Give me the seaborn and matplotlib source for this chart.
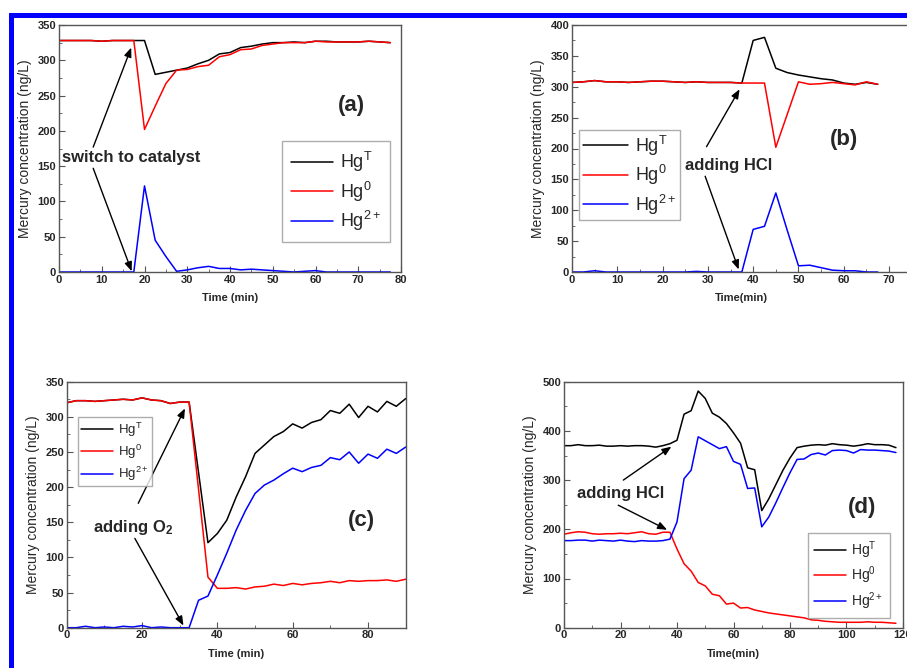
import numpy as np
import pandas as pd
import matplotlib
matplotlib.use('Agg')
import matplotlib.pyplot as plt
import seaborn as sns
from matplotlib.ticker import MultipleLocator
from matplotlib.patches import Rectangle

# ---------------- data ----------------
series_names = [r'Hg$^{\mathrm{T}}$', r'Hg$^{\mathrm{0}}$', r'Hg$^{\mathrm{2+}}$']
series_colors = ['#000000', '#ff0000', '#0000ff']

# panel (a)
t_a = [0, 2.5, 5, 7.5, 10, 12.5, 15, 17.5, 20, 22.5, 25, 27.5, 30, 32.5, 35, 37.5,
       40, 42.5, 45, 47.5, 50, 52.5, 55, 57.5, 60, 62.5, 65, 67.5, 70, 72.5, 75, 77.5]
hgT_a = [328, 328, 328, 328, 327, 328, 328, 328, 328, 280, 283, 286, 289, 295, 300, 309,
         311, 318, 320, 323, 325, 325, 326, 325, 327, 327, 326, 326, 326, 327, 326, 325]
hg0_a = [328, 328, 328, 328, 327, 328, 328, 328, 202, 235, 267, 286, 287, 291, 293, 305,
         308, 315, 316, 321, 323, 325, 325, 325, 327, 326, 326, 326, 326, 327, 326, 325]
hg2_a = [0, 0, 0, 0, 0, 0, 0, 0, 122, 45, 22, 1, 3, 6, 8, 5,
         5, 3, 4, 3, 2, 1, 0, 1, 2, 0, 0, 0, 0, 0, 0, 0]

# panel (b)
t_b = [0, 2.5, 5, 7.5, 10, 12.5, 15, 17.5, 20, 22.5, 25, 27.5, 30, 32.5, 35, 37.5,
       40, 42.5, 45, 47.5, 50, 52.5, 55, 57.5, 60, 62.5, 65, 67.5]
hgT_b = [307, 308, 310, 308, 308, 307, 308, 309, 309, 308, 307, 308, 307, 307, 307, 306,
         375, 380, 330, 323, 319, 316, 313, 311, 306, 304, 307, 304]
hg0_b = [307, 308, 310, 308, 308, 307, 308, 309, 309, 308, 307, 308, 307, 307, 307, 306,
         306, 306, 202, 255, 308, 304, 305, 307, 305, 303, 308, 304]
hg2_b = [0, 0, 2, 0, 0, 0, 0, 0, 0, 0, 0, 1, 0, 0, 0, 0,
         69, 74, 128, 68, 10, 11, 7, 3, 2, 2, 0, 0]

# panel (c)
t_c = [0, 2.5, 5, 7.5, 10, 12.5, 15, 17.5, 20, 22.5, 25, 27.5, 30, 32.5, 35, 37.5,
       40, 42.5, 45, 47.5, 50, 52.5, 55, 57.5, 60, 62.5, 65, 67.5, 70, 72.5, 75, 77.5,
       80, 82.5, 85, 87.5, 90]
hgT_c = [320, 323, 323, 322, 323, 324, 325, 324, 327, 324, 323, 319, 321, 321, 221, 121,
         134, 153, 186, 215, 248, 260, 272, 279, 290, 284, 292, 296, 309, 305, 318, 299,
         315, 307, 322, 315, 326]
hg0_c = [320, 323, 323, 322, 323, 324, 325, 324, 327, 324, 323, 319, 321, 321, 197, 72,
         56, 56, 57, 55, 58, 59, 62, 60, 63, 61, 63, 64, 66, 64, 67, 66,
         67, 67, 68, 66, 69]
hg2_c = [0, 0, 2, 0, 1, 0, 2, 1, 3, 0, 1, 0, 0, 0, 39, 45,
         75, 106, 139, 167, 191, 203, 210, 219, 227, 222, 228, 231, 242, 239, 250, 234,
         247, 241, 254, 248, 257]

# panel (d)
t_d = [0, 2.5, 5, 7.5, 10, 12.5, 15, 17.5, 20, 22.5, 25, 27.5, 30, 32.5, 35, 37.5,
       40, 42.5, 45, 47.5, 50, 52.5, 55, 57.5, 60, 62.5, 65, 67.5, 70, 72.5, 75, 77.5,
       80, 82.5, 85, 87.5, 90, 92.5, 95, 97.5, 100, 102.5, 105, 107.5, 110, 112.5, 115, 117.5]
hgT_d = [370, 370, 372, 370, 370, 371, 369, 369, 370, 369, 370, 370, 369, 367, 370, 374,
         381, 434, 441, 481, 466, 436, 428, 415, 396, 375, 325, 321, 238, 262, 291, 320,
         345, 366, 369, 371, 372, 371, 374, 372, 371, 369, 371, 374, 372, 372, 371, 366]
hg0_d = [190, 193, 195, 194, 191, 190, 191, 191, 192, 191, 193, 195, 191, 190, 194, 194,
         160, 130, 115, 92, 85, 68, 65, 48, 50, 40, 41, 36, 33, 30, 28, 26,
         24, 22, 20, 16, 15, 13, 12, 11, 11, 11, 11, 12, 11, 11, 10, 9]
hg2_d = [177, 177, 178, 178, 176, 178, 177, 176, 178, 176, 175, 177, 176, 176, 177, 180,
         215, 303, 320, 388, 380, 372, 364, 368, 338, 332, 283, 284, 205, 225, 254, 285,
         315, 342, 343, 352, 355, 351, 360, 361, 360, 355, 362, 361, 361, 360, 359, 356]

panel_tags = ['(a)', '(b)', '(c)', '(d)']
xlabels = ['Time (min)', 'Time(min)', 'Time (min)', 'Time(min)']
ylabel = 'Mercury concentration (ng/L)'

# ---------------- style ----------------
sns.set_style('ticks')
plt.rcParams['font.family'] = ['Liberation Sans', 'DejaVu Sans']
plt.rcParams['mathtext.fontset'] = 'custom'
plt.rcParams['mathtext.rm'] = 'Liberation Sans'
plt.rcParams['mathtext.it'] = 'Liberation Sans:italic'
plt.rcParams['mathtext.bf'] = 'Liberation Sans:bold'

fig = plt.figure(figsize=(9.07, 6.68), dpi=100)
W, H = 907.0, 668.0

def px_axes(l, r, t, b):
    return fig.add_axes([l / W, 1 - b / H, (r - l) / W, (b - t) / H])

axes = [px_axes(59, 401, 25, 272),
        px_axes(572, 911.7, 25, 272),
        px_axes(66.7, 405.7, 381.7, 627.7),
        px_axes(564, 903, 381.7, 627.7)]

datasets = [(t_a, [hgT_a, hg0_a, hg2_a]),
            (t_b, [hgT_b, hg0_b, hg2_b]),
            (t_c, [hgT_c, hg0_c, hg2_c]),
            (t_d, [hgT_d, hg0_d, hg2_d])]

limits = [((0, 80), (0, 350), 10, 5, 50, 25),
          ((0, 75), (0, 400), 10, 5, 50, 25),
          ((0, 90), (0, 350), 20, 10, 50, 25),
          ((0, 120), (0, 500), 20, 10, 100, 50)]

spine_col = '#555555'
for ax, (t, ys), lim in zip(axes, datasets, limits):
    for name, col, y in zip(series_names, series_colors, ys):
        df = pd.DataFrame({'t': t, 'v': y})
        sns.lineplot(data=df, x='t', y='v', color=col, linewidth=1.1, ax=ax,
                     label=name, legend=False)
    ax.set_xlim(*lim[0])
    ax.set_ylim(*lim[1])
    ax.xaxis.set_major_locator(MultipleLocator(lim[2]))
    ax.xaxis.set_minor_locator(MultipleLocator(lim[3]))
    ax.yaxis.set_major_locator(MultipleLocator(lim[4]))
    ax.yaxis.set_minor_locator(MultipleLocator(lim[5]))
    ax.tick_params(which='major', direction='in', length=4, width=0.8,
                   color=spine_col, labelsize=8, pad=2)
    ax.tick_params(which='minor', direction='in', length=2, width=0.6, color=spine_col)
    for s in ax.spines.values():
        s.set_color(spine_col)
        s.set_linewidth(1.0)
    for lab in ax.get_xticklabels() + ax.get_yticklabels():
        lab.set_fontweight('bold')
    ax.set_ylabel(ylabel, fontsize=10, labelpad=4)

for ax, xl in zip(axes, xlabels):
    ax.set_xlabel(xl, fontsize=8, fontweight='bold', labelpad=6)

# legends
leg_specs = [(axes[0], (0.652, 0.530), 13, 2.3, 0.5),
             (axes[1], (0.021, 0.575), 13, 2.5, 0.2),
             (axes[2], (0.032, 0.855), 9.5, 2.4, 0.25),
             (axes[3], (0.719, 0.386), 10, 2.3, 0.45)]
for ax, anchor, fs, hl, bp in leg_specs:
    leg = ax.legend(loc='upper left', bbox_to_anchor=anchor, fontsize=fs,
                    frameon=True, fancybox=False, handlelength=hl,
                    handletextpad=0.4, labelspacing=0.3, borderpad=bp,
                    borderaxespad=0)
    leg.get_frame().set_edgecolor('#999999')
    leg.get_frame().set_linewidth(1.0)

# panel tags
tag_pos = [(0.855, 0.675), (0.80, 0.535), (0.87, 0.435), (0.88, 0.49)]
for ax, tag, pos in zip(axes, panel_tags, tag_pos):
    ax.text(pos[0], pos[1], tag, transform=ax.transAxes, fontsize=16,
            fontweight='bold', ha='center', va='center')

arrow_kw = dict(arrowstyle='-|>,head_length=0.55,head_width=0.22', color='black',
                lw=1.0, shrinkA=0, shrinkB=0)

# (a) annotation
ax = axes[0]
ax.text(0.8, 162, 'switch to catalyst', fontsize=12, fontweight='bold',
        ha='left', va='center')
ax.annotate('', xy=(16.9, 318), xytext=(8.0, 177), arrowprops=arrow_kw)
ax.annotate('', xy=(17.0, 1), xytext=(8.0, 147), arrowprops=arrow_kw)

# (b) annotation
ax = axes[1]
ax.text(24.9, 173, 'adding HCl', fontsize=12, fontweight='bold',
        ha='left', va='center')
ax.annotate('', xy=(37.0, 296), xytext=(29.7, 203), arrowprops=arrow_kw)
ax.annotate('', xy=(36.8, 4), xytext=(29.4, 155), arrowprops=arrow_kw)

# (c) annotation
ax = axes[2]
ax.text(7.0, 143, r'adding O$_{\mathbf{2}}$', fontsize=12, fontweight='bold',
        ha='left', va='center')
ax.annotate('', xy=(31.4, 312), xytext=(19.0, 177), arrowprops=arrow_kw)
ax.annotate('', xy=(31.0, 3), xytext=(18.1, 127), arrowprops=arrow_kw)

# (d) annotation
ax = axes[3]
ax.text(4.5, 273, 'adding HCl', fontsize=12, fontweight='bold',
        ha='left', va='center')
ax.annotate('', xy=(38.0, 368), xytext=(21.0, 300), arrowprops=arrow_kw)
ax.annotate('', xy=(36.5, 199), xytext=(19.2, 249), arrowprops=arrow_kw)

# blue frame (top and left edges visible)
fig.add_artist(Rectangle((10.5 / W, -0.2), 1.5, 1.2 - 15.0 / H,
                         transform=fig.transFigure, fill=False,
                         edgecolor='#0000ff', linewidth=3.6, clip_on=False))

fig.savefig('out.png', dpi=100)
